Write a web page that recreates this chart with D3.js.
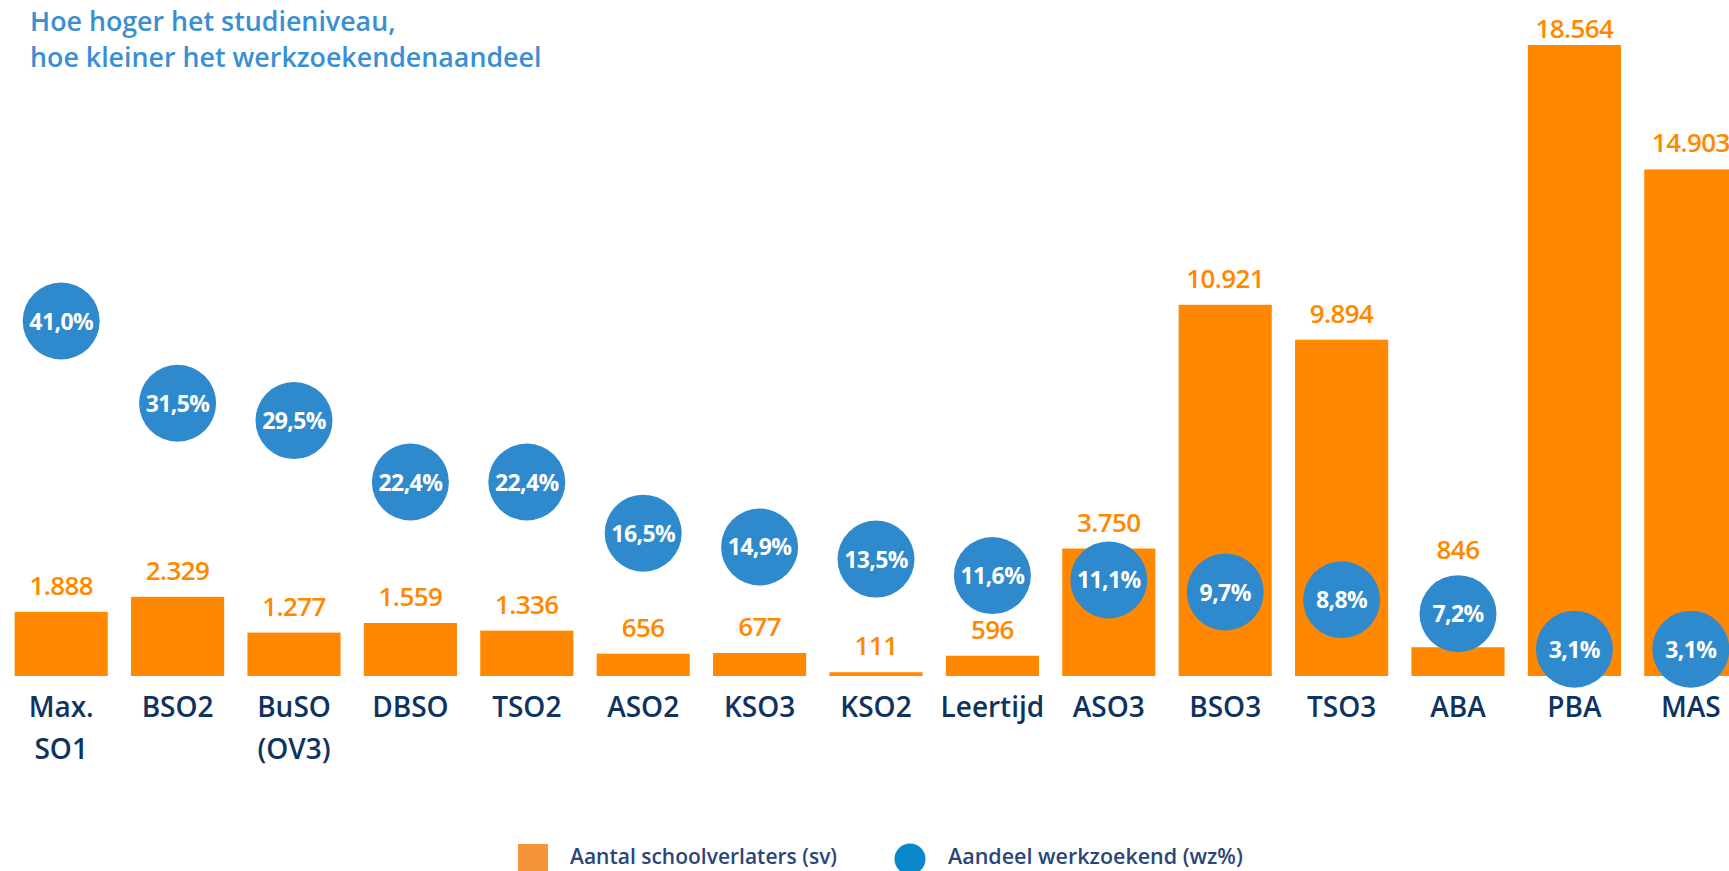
<!DOCTYPE html>
<html><head><meta charset="utf-8">
<script src="https://cdn.jsdelivr.net/npm/d3@7"></script>
<style>
html,body{margin:0;padding:0;background:#fff;overflow:hidden}
svg{display:block}
text{font-family:"Open Sans","Noto Sans",sans-serif}
</style></head>
<body><svg id="c" width="1729" height="871"></svg>
<script>
const categories = [["Max.","SO1"],["BSO2"],["BuSO","(OV3)"],["DBSO"],["TSO2"],["ASO2"],["KSO3"],["KSO2"],["Leertijd"],["ASO3"],["BSO3"],["TSO3"],["ABA"],["PBA"],["MAS"]];
const svValues = [1888, 2329, 1277, 1559, 1336, 656, 677, 111, 596, 3750, 10921, 9894, 846, 18564, 14903];
const wzValues = [41.0, 31.5, 29.5, 22.4, 22.4, 16.5, 14.9, 13.5, 11.6, 11.1, 9.7, 8.8, 7.2, 3.1, 3.1];
const titleLines = ["Hoe hoger het studieniveau,", "hoe kleiner het werkzoekendenaandeel"];
const legendLabels = ["Aantal schoolverlaters (sv)", "Aandeel werkzoekend (wz%)"];

const svg = d3.select("#c");
const keys = categories.map((c,i)=>i);
const x = d3.scaleBand().domain(keys).range([3, 1749]).paddingInner(0.2).paddingOuter(0.1);
const base = 676;
const y = d3.scaleLinear().domain([0, 18564]).range([base, 45]);
const y2 = d3.scaleLinear().domain([0, 41]).range([base, 321]);
const fmtN = v => d3.format(",")(v).replace(/,/g, ".");
const fmtP = v => d3.format(".1f")(v).replace(".", ",") + "%";
const r = 38.5;
const cx = i => x(i) + x.bandwidth()/2;

// title
svg.append("g").selectAll("text").data(titleLines).join("text")
  .attr("x", 30).attr("y", (d,i)=>31 + i*36)
  .attr("fill", "#3a8fd3").attr("font-size", 26.8).attr("font-weight", 600)
  .text(d=>d);

// bars
svg.append("g").selectAll("rect").data(svValues).join("rect")
  .attr("x", (d,i)=>x(i)).attr("width", x.bandwidth())
  .attr("y", d=>y(d)).attr("height", d=>base - y(d))
  .attr("fill", "#ff8800");

// bar labels: above the bar, or above the circle when the circle would hide it
function labelY(d, i) {
  let ly = y(d) - 17;
  const ctop = y2(wzValues[i]) - r;
  if (ly > ctop && ly - 20 < y2(wzValues[i]) + r) ly = ctop - 16;
  return Math.max(ly, 38);
}
svg.append("g").selectAll("text").data(svValues).join("text")
  .attr("x", (d,i)=>cx(i)).attr("y", labelY)
  .attr("text-anchor","middle").attr("fill","#ff8800")
  .attr("font-size", 26).attr("font-weight", 650).attr("letter-spacing", -0.6)
  .text(d=>fmtN(d));

// circles
svg.append("g").selectAll("circle").data(wzValues).join("circle")
  .attr("cx", (d,i)=>cx(i)).attr("cy", d=>y2(d)).attr("r", r)
  .attr("fill", "#2f89cd");
svg.append("g").selectAll("text").data(wzValues).join("text")
  .attr("x", (d,i)=>cx(i)).attr("y", d=>y2(d)+8.5)
  .attr("text-anchor","middle").attr("fill","#fff")
  .attr("font-size", 23).attr("font-weight", 700).attr("letter-spacing", -0.6)
  .text(d=>fmtP(d));

// x labels
const xl = svg.append("g").selectAll("text").data(categories).join("text")
  .attr("x", (d,i)=>cx(i)).attr("y", 717)
  .attr("text-anchor","middle").attr("fill","#0f335f")
  .attr("font-size", 28).attr("font-weight", 600);
xl.selectAll("tspan").data(d=>d).join("tspan")
  .attr("x", function(){return d3.select(this.parentNode).attr("x");})
  .attr("dy", (d,i)=> i===0 ? 0 : 42)
  .text(d=>d);

// legend
const lg = svg.append("g");
lg.append("rect").attr("x", 518).attr("y", 844).attr("width", 30).attr("height", 30).attr("fill", "#f39439");
lg.append("text").attr("x", 570).attr("y", 864).attr("fill", "#2b4677").attr("font-size", 21).attr("font-weight", 600).text(legendLabels[0]);
lg.append("circle").attr("cx", 910).attr("cy", 859).attr("r", 15.5).attr("fill", "#0a87cb");
lg.append("text").attr("x", 948).attr("y", 864).attr("fill", "#2b4677").attr("font-size", 21.5).attr("font-weight", 600).text(legendLabels[1]);
</script></body></html>
